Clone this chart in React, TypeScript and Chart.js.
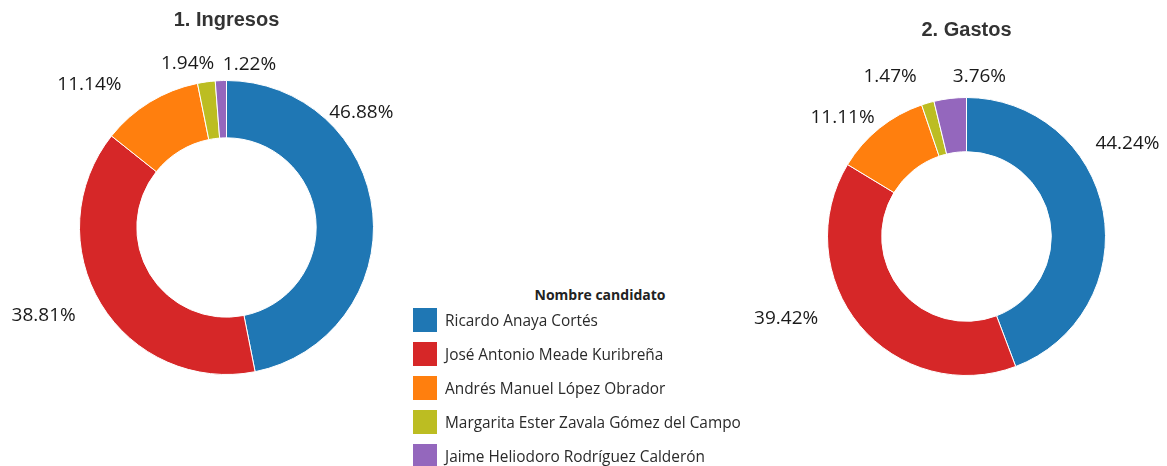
import React, { useEffect, useRef } from "react";
import { Chart, registerables } from "chart.js";

Chart.register(...registerables);

const candidates = [
  "Ricardo Anaya Cortés",
  "José Antonio Meade Kuribreña",
  "Andrés Manuel López Obrador",
  "Margarita Ester Zavala Gómez del Campo",
  "Jaime Heliodoro Rodríguez Calderón",
];
const colors = ["#1F77B4", "#D62728", "#FF7F0E", "#BCBD22", "#9467BD"];

const ingresos = [46.88, 38.81, 11.14, 1.94, 1.22];
const gastos = [44.24, 39.42, 11.11, 1.47, 3.76];

// label placement tweaks (degrees shift from slice middle, px gap beyond outer edge)
const ingresosLabelShift = [-34.8, 5.6, -12.4, -5.5, 10.2];
const ingresosLabelGap = [30, 56, 51, 21, 18];
const gastosLabelShift = [-19.7, 15.4, -7.3, -9.4, 11.4];
const gastosLabelGap = [47, 59, 33, 38, 21];

const sliceLabelPlugin = {
  id: "sliceLabels",
  afterDraw(chart: any, _args: any, opts: any) {
    const ctx = chart.ctx;
    const meta = chart.getDatasetMeta(0);
    const values = chart.data.datasets[0].data as number[];
    ctx.save();
    ctx.textAlign = "center";
    ctx.textBaseline = "middle";
    ctx.fillStyle = "#1a1a1a";
    ctx.font = "19px 'Open Sans', sans-serif";
    meta.data.forEach((arc: any, i: number) => {
      const p = arc.getProps(["x", "y", "startAngle", "endAngle", "outerRadius"], true);
      const mid = (p.startAngle + p.endAngle) / 2 + (opts.shifts[i] * Math.PI) / 180;
      const r = p.outerRadius + opts.gaps[i];
      ctx.fillText(values[i].toFixed(2) + "%", p.x + r * Math.cos(mid), p.y + r * Math.sin(mid));
    });
    if (meta.data.length) {
      const p0 = meta.data[0].getProps(["x"], true);
      ctx.font = "bold 20px 'Liberation Sans', Arial, sans-serif";
      ctx.fillStyle = "#333333";
      ctx.fillText(opts.title, p0.x, opts.titleY);
    }
    ctx.restore();
  },
};

function Donut(props: {
  values: number[];
  shifts: number[];
  gaps: number[];
  title: string;
  titleY: number;
  width: number;
  height: number;
  padding: { left: number; right: number; top: number; bottom: number };
}) {
  const ref = useRef<HTMLCanvasElement | null>(null);
  useEffect(() => {
    if (!ref.current) return;
    const chart = new Chart(ref.current, {
      type: "doughnut",
      data: {
        labels: candidates,
        datasets: [
          {
            data: props.values,
            backgroundColor: colors,
            borderColor: "#ffffff",
            borderWidth: 1,
            hoverOffset: 0,
            offset: 0,
          },
        ],
      },
      options: {
        responsive: false,
        animation: false,
        cutout: "61%",
        layout: { padding: props.padding },
        plugins: {
          legend: { display: false },
          tooltip: { enabled: false },
          title: { display: false },
          sliceLabels: {
            shifts: props.shifts,
            gaps: props.gaps,
            title: props.title,
            titleY: props.titleY,
          },
        } as any,
      },
      plugins: [sliceLabelPlugin],
    });
    return () => chart.destroy();
  }, []);
  return <canvas ref={ref} width={props.width} height={props.height} style={{ display: "block" }} />;
}

export default function App() {
  return (
    <div
      style={{
        position: "fixed",
        left: 0,
        top: 0,
        width: 1167,
        height: 466,
        background: "#ffffff",
        overflow: "hidden",
      }}
    >
      <div style={{ position: "absolute", left: 0, top: 0 }}>
        <Donut
          values={ingresos}
          shifts={ingresosLabelShift}
          gaps={ingresosLabelGap}
          title="1. Ingresos"
          titleY={20}
          width={452}
          height={466}
          padding={{ left: 79, right: 78, top: 80, bottom: 91 }}
        />
      </div>
      <div style={{ position: "absolute", left: 740, top: 0 }}>
        <Donut
          values={gastos}
          shifts={gastosLabelShift}
          gaps={gastosLabelGap}
          title="2. Gastos"
          titleY={30}
          width={427}
          height={466}
          padding={{ left: 87, right: 61, top: 97, bottom: 90 }}
        />
      </div>
      <div
        style={{
          position: "absolute",
          left: 500,
          top: 285,
          width: 200,
          textAlign: "center",
          font: "bold 14px 'Open Sans', sans-serif",
          color: "#222222",
          lineHeight: "20px",
        }}
      >
        Nombre candidato
      </div>
      {candidates.map((name, i) => (
        <div
          key={name}
          style={{
            position: "absolute",
            left: 413,
            top: 308 + 34 * i,
            height: 24,
            display: "flex",
            alignItems: "center",
            whiteSpace: "nowrap",
          }}
        >
          <div style={{ width: 24, height: 24, background: colors[i] }} />
          <div
            style={{
              marginLeft: 8,
              font: "15.4px 'Open Sans', sans-serif",
              color: "#2a2a2a",
            }}
          >
            {name}
          </div>
        </div>
      ))}
    </div>
  );
}
